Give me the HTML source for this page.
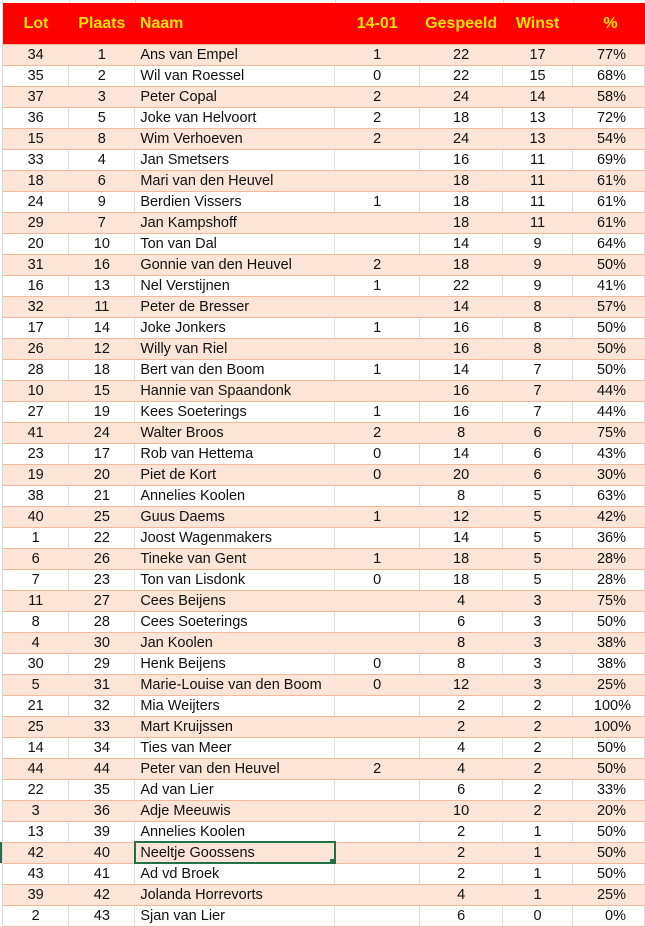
<!DOCTYPE html>
<html><head><meta charset="utf-8"><style>
html,body{margin:0;padding:0;background:#fff;width:645px;height:927px;overflow:hidden;font-family:"Liberation Sans",sans-serif;}
.wrap{position:absolute;left:0;top:0;width:645px;height:927px;}
table{position:absolute;left:3px;top:3px;border-collapse:collapse;table-layout:fixed;}
td{height:20px;padding:0;font-size:14.5px;color:#111;border-bottom:1px solid #f4b99a;border-right:1px solid #dcdcdc;white-space:nowrap;overflow:hidden;line-height:20px;}
tr.h td{height:41px;background:#ff0000;color:#ffe000;font-weight:bold;font-size:16px;border:none;border-bottom:1px solid #f4b99a;line-height:38px;}
tr.p td{background:#fce4d6;border-right-color:#fce4d6;}
.c{text-align:center}.n{padding-left:5px}.r{text-align:right;padding-right:18px}
.sel{position:absolute;left:134px;top:841px;width:198px;height:19px;border:2px solid #217346;}
.selh{position:absolute;left:330px;top:859px;width:5px;height:5px;background:#217346;}
.lm{position:absolute;left:0;top:842px;width:2px;height:21px;background:#217346;}
.topg{position:absolute;top:0;height:3px;width:1px;background:#dcdcdc}
</style></head><body><div class="wrap">
<div class="topg" style="left:69px"></div><div class="topg" style="left:135px"></div><div class="topg" style="left:335px"></div><div class="topg" style="left:420px"></div><div class="topg" style="left:503px"></div><div class="topg" style="left:573px"></div>
<div style="position:absolute;left:2px;top:0;width:1px;height:927px;background:#d8d8d8"></div>
<table>
<colgroup><col style="width:66px"><col style="width:66px"><col style="width:200px"><col style="width:85px"><col style="width:83px"><col style="width:70px"><col style="width:72px"></colgroup>
<tr class="h"><td class="c">Lot</td><td class="c">Plaats</td><td class="n">Naam</td><td class="c">14-01</td><td class="c">Gespeeld</td><td class="c">Winst</td><td class="c" style="padding-left:4px">%</td></tr>
<tr class="p"><td class="c">34</td><td class="c">1</td><td class="n">Ans van Empel</td><td class="c">1</td><td class="c">22</td><td class="c">17</td><td class="r">77%</td></tr>
<tr><td class="c">35</td><td class="c">2</td><td class="n">Wil van Roessel</td><td class="c">0</td><td class="c">22</td><td class="c">15</td><td class="r">68%</td></tr>
<tr class="p"><td class="c">37</td><td class="c">3</td><td class="n">Peter Copal</td><td class="c">2</td><td class="c">24</td><td class="c">14</td><td class="r">58%</td></tr>
<tr><td class="c">36</td><td class="c">5</td><td class="n">Joke van Helvoort</td><td class="c">2</td><td class="c">18</td><td class="c">13</td><td class="r">72%</td></tr>
<tr class="p"><td class="c">15</td><td class="c">8</td><td class="n">Wim Verhoeven</td><td class="c">2</td><td class="c">24</td><td class="c">13</td><td class="r">54%</td></tr>
<tr><td class="c">33</td><td class="c">4</td><td class="n">Jan Smetsers</td><td class="c"></td><td class="c">16</td><td class="c">11</td><td class="r">69%</td></tr>
<tr class="p"><td class="c">18</td><td class="c">6</td><td class="n">Mari van den Heuvel</td><td class="c"></td><td class="c">18</td><td class="c">11</td><td class="r">61%</td></tr>
<tr><td class="c">24</td><td class="c">9</td><td class="n">Berdien Vissers</td><td class="c">1</td><td class="c">18</td><td class="c">11</td><td class="r">61%</td></tr>
<tr class="p"><td class="c">29</td><td class="c">7</td><td class="n">Jan Kampshoff</td><td class="c"></td><td class="c">18</td><td class="c">11</td><td class="r">61%</td></tr>
<tr><td class="c">20</td><td class="c">10</td><td class="n">Ton van Dal</td><td class="c"></td><td class="c">14</td><td class="c">9</td><td class="r">64%</td></tr>
<tr class="p"><td class="c">31</td><td class="c">16</td><td class="n">Gonnie van den Heuvel</td><td class="c">2</td><td class="c">18</td><td class="c">9</td><td class="r">50%</td></tr>
<tr><td class="c">16</td><td class="c">13</td><td class="n">Nel Verstijnen</td><td class="c">1</td><td class="c">22</td><td class="c">9</td><td class="r">41%</td></tr>
<tr class="p"><td class="c">32</td><td class="c">11</td><td class="n">Peter de Bresser</td><td class="c"></td><td class="c">14</td><td class="c">8</td><td class="r">57%</td></tr>
<tr><td class="c">17</td><td class="c">14</td><td class="n">Joke Jonkers</td><td class="c">1</td><td class="c">16</td><td class="c">8</td><td class="r">50%</td></tr>
<tr class="p"><td class="c">26</td><td class="c">12</td><td class="n">Willy van Riel</td><td class="c"></td><td class="c">16</td><td class="c">8</td><td class="r">50%</td></tr>
<tr><td class="c">28</td><td class="c">18</td><td class="n">Bert van den Boom</td><td class="c">1</td><td class="c">14</td><td class="c">7</td><td class="r">50%</td></tr>
<tr class="p"><td class="c">10</td><td class="c">15</td><td class="n">Hannie van Spaandonk</td><td class="c"></td><td class="c">16</td><td class="c">7</td><td class="r">44%</td></tr>
<tr><td class="c">27</td><td class="c">19</td><td class="n">Kees Soeterings</td><td class="c">1</td><td class="c">16</td><td class="c">7</td><td class="r">44%</td></tr>
<tr class="p"><td class="c">41</td><td class="c">24</td><td class="n">Walter Broos</td><td class="c">2</td><td class="c">8</td><td class="c">6</td><td class="r">75%</td></tr>
<tr><td class="c">23</td><td class="c">17</td><td class="n">Rob van Hettema</td><td class="c">0</td><td class="c">14</td><td class="c">6</td><td class="r">43%</td></tr>
<tr class="p"><td class="c">19</td><td class="c">20</td><td class="n">Piet de Kort</td><td class="c">0</td><td class="c">20</td><td class="c">6</td><td class="r">30%</td></tr>
<tr><td class="c">38</td><td class="c">21</td><td class="n">Annelies Koolen</td><td class="c"></td><td class="c">8</td><td class="c">5</td><td class="r">63%</td></tr>
<tr class="p"><td class="c">40</td><td class="c">25</td><td class="n">Guus Daems</td><td class="c">1</td><td class="c">12</td><td class="c">5</td><td class="r">42%</td></tr>
<tr><td class="c">1</td><td class="c">22</td><td class="n">Joost Wagenmakers</td><td class="c"></td><td class="c">14</td><td class="c">5</td><td class="r">36%</td></tr>
<tr class="p"><td class="c">6</td><td class="c">26</td><td class="n">Tineke van Gent</td><td class="c">1</td><td class="c">18</td><td class="c">5</td><td class="r">28%</td></tr>
<tr><td class="c">7</td><td class="c">23</td><td class="n">Ton van Lisdonk</td><td class="c">0</td><td class="c">18</td><td class="c">5</td><td class="r">28%</td></tr>
<tr class="p"><td class="c">11</td><td class="c">27</td><td class="n">Cees Beijens</td><td class="c"></td><td class="c">4</td><td class="c">3</td><td class="r">75%</td></tr>
<tr><td class="c">8</td><td class="c">28</td><td class="n">Cees Soeterings</td><td class="c"></td><td class="c">6</td><td class="c">3</td><td class="r">50%</td></tr>
<tr class="p"><td class="c">4</td><td class="c">30</td><td class="n">Jan Koolen</td><td class="c"></td><td class="c">8</td><td class="c">3</td><td class="r">38%</td></tr>
<tr><td class="c">30</td><td class="c">29</td><td class="n">Henk Beijens</td><td class="c">0</td><td class="c">8</td><td class="c">3</td><td class="r">38%</td></tr>
<tr class="p"><td class="c">5</td><td class="c">31</td><td class="n">Marie-Louise van den Boom</td><td class="c">0</td><td class="c">12</td><td class="c">3</td><td class="r">25%</td></tr>
<tr><td class="c">21</td><td class="c">32</td><td class="n">Mia Weijters</td><td class="c"></td><td class="c">2</td><td class="c">2</td><td class="r" style="padding-right:13px">100%</td></tr>
<tr class="p"><td class="c">25</td><td class="c">33</td><td class="n">Mart Kruijssen</td><td class="c"></td><td class="c">2</td><td class="c">2</td><td class="r" style="padding-right:13px">100%</td></tr>
<tr><td class="c">14</td><td class="c">34</td><td class="n">Ties van Meer</td><td class="c"></td><td class="c">4</td><td class="c">2</td><td class="r">50%</td></tr>
<tr class="p"><td class="c">44</td><td class="c">44</td><td class="n">Peter van den Heuvel</td><td class="c">2</td><td class="c">4</td><td class="c">2</td><td class="r">50%</td></tr>
<tr><td class="c">22</td><td class="c">35</td><td class="n">Ad van Lier</td><td class="c"></td><td class="c">6</td><td class="c">2</td><td class="r">33%</td></tr>
<tr class="p"><td class="c">3</td><td class="c">36</td><td class="n">Adje Meeuwis</td><td class="c"></td><td class="c">10</td><td class="c">2</td><td class="r">20%</td></tr>
<tr><td class="c">13</td><td class="c">39</td><td class="n">Annelies Koolen</td><td class="c"></td><td class="c">2</td><td class="c">1</td><td class="r">50%</td></tr>
<tr class="p"><td class="c">42</td><td class="c">40</td><td class="n">Neeltje Goossens</td><td class="c"></td><td class="c">2</td><td class="c">1</td><td class="r">50%</td></tr>
<tr><td class="c">43</td><td class="c">41</td><td class="n">Ad vd Broek</td><td class="c"></td><td class="c">2</td><td class="c">1</td><td class="r">50%</td></tr>
<tr class="p"><td class="c">39</td><td class="c">42</td><td class="n">Jolanda Horrevorts</td><td class="c"></td><td class="c">4</td><td class="c">1</td><td class="r">25%</td></tr>
<tr><td class="c">2</td><td class="c">43</td><td class="n">Sjan van Lier</td><td class="c"></td><td class="c">6</td><td class="c">0</td><td class="r">0%</td></tr>
</table>
<div class="sel"></div><div class="selh"></div><div class="lm"></div>
</div></body></html>
